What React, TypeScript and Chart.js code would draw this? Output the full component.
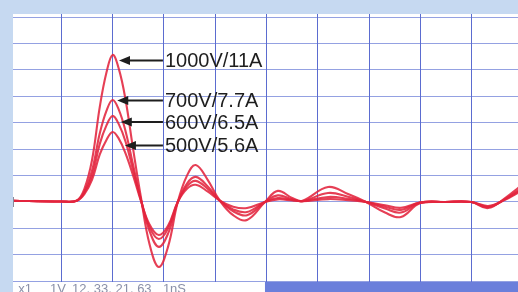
import React, { useEffect, useRef } from "react";
import { Chart, registerables } from "chart.js";
Chart.register(...registerables);

// time in screen divisions
const TIME = [0.0, 1.0, 1.3, 1.45, 1.6, 1.75, 1.88, 2.0, 2.12, 2.25, 2.4, 2.55, 2.72, 2.9, 3.08, 3.27, 3.45, 3.62, 3.85, 4.09, 4.35, 4.62, 4.97, 5.22, 5.5, 5.7, 6.2, 6.59, 6.94, 7.31, 7.62, 7.99, 8.48, 8.99, 9.32, 9.65, 9.95];

const V1000 = [0.05, 0.02, 0.05, 0.5, 1.6, 3.6, 4.9, 5.57, 5.05, 3.9, 2.0, 0.2, -1.6, -2.46, -1.7, 0.0, 1.0, 1.4, 0.85, 0.05, -0.5, -0.68, 0.0, 0.42, 0.15, 0.05, 0.57, 0.3, 0.0, -0.4, -0.57, -0.05, 0.0, 0.0, -0.23, 0.15, 0.6];
const V700 = [0.05, 0.02, 0.05, 0.4, 1.2, 2.6, 3.45, 3.86, 3.5, 2.7, 1.4, 0.1, -1.1, -1.7, -1.2, 0.0, 0.7, 0.95, 0.6, 0.05, -0.35, -0.5, 0.0, 0.25, 0.1, 0.03, 0.34, 0.2, 0.0, -0.25, -0.4, -0.03, 0.0, 0.0, -0.2, 0.12, 0.5];
const V600 = [0.05, 0.02, 0.05, 0.35, 1.0, 2.2, 2.9, 3.26, 2.95, 2.3, 1.2, 0.1, -0.95, -1.4, -1.0, 0.0, 0.6, 0.8, 0.5, 0.05, -0.28, -0.38, 0.0, 0.15, 0.08, 0.03, 0.19, 0.12, 0.0, -0.18, -0.3, -0.02, 0.0, 0.0, -0.18, 0.1, 0.45];
const V500 = [0.05, 0.02, 0.05, 0.3, 0.85, 1.8, 2.35, 2.65, 2.4, 1.85, 1.0, 0.05, -0.85, -1.25, -0.9, 0.0, 0.5, 0.65, 0.4, 0.05, -0.18, -0.23, 0.0, 0.1, 0.06, 0.03, 0.11, 0.07, 0.0, -0.12, -0.22, -0.02, 0.0, 0.0, -0.15, 0.08, 0.4];

const SERIES = [V1000, V700, V600, V500];
const SERIES_LABELS = ["1000V/11A", "700V/7.7A", "600V/6.5A", "500V/5.6A"];
const ARROW_TIP_X = [2.125, 2.09, 2.16, 2.24];
const ARROW_Y = [5.36, 3.84, 3.03, 2.14];
const LABEL_X = 3.02;

const X_GRID = [1, 2, 3, 4, 5, 6, 7, 8, 9];
const Y_GRID = [-3, -2, -1, 0, 1, 2, 3, 4, 5, 6, 7];

const FOOTER_TEXT = ["x1", "1V", "12. 33. 21. 63", "1nS"];
const FOOTER_X = [0.16, 0.78, 1.21, 2.98];
const FOOTER_BAR_START = 4.97;

const decorPlugin = {
  id: "decor",
  beforeDraw(chart: any) {
    const { ctx, chartArea, width, height } = chart;
    ctx.save();
    ctx.fillStyle = "#c6d9f1";
    ctx.fillRect(0, 0, width, height);
    ctx.fillStyle = "#ffffff";
    ctx.fillRect(chartArea.left, chartArea.top, width - chartArea.left, height - chartArea.top);
    ctx.restore();
  },
  afterDatasetsDraw(chart: any) {
    const { ctx, chartArea, width, height, scales } = chart;
    const xs = scales.x;
    const ys = scales.y;
    ctx.save();
    // small ground marker at left edge
    const gy = ys.getPixelForValue(0);
    ctx.strokeStyle = "#8a8a9a";
    ctx.lineWidth = 1;
    ctx.beginPath();
    ctx.moveTo(chartArea.left + 0.5, gy - 5);
    ctx.lineTo(chartArea.left + 0.5, gy + 5);
    ctx.stroke();
    // arrows and labels
    ctx.strokeStyle = "#1e1e1e";
    ctx.fillStyle = "#1e1e1e";
    ctx.lineWidth = 2;
    ctx.font = '20px "Liberation Sans", Arial, sans-serif';
    ctx.textBaseline = "middle";
    ctx.textAlign = "left";
    SERIES_LABELS.forEach((lab, i) => {
      const tx = xs.getPixelForValue(ARROW_TIP_X[i]);
      const py = ys.getPixelForValue(ARROW_Y[i]);
      const lx = xs.getPixelForValue(LABEL_X);
      ctx.beginPath();
      ctx.moveTo(tx + 8, py);
      ctx.lineTo(lx - 2, py);
      ctx.stroke();
      ctx.beginPath();
      ctx.moveTo(tx, py);
      ctx.lineTo(tx + 11, py - 4.5);
      ctx.lineTo(tx + 11, py + 4.5);
      ctx.closePath();
      ctx.fill();
      ctx.fillText(lab, lx, py + 1);
    });
    // footer
    const bx = xs.getPixelForValue(FOOTER_BAR_START);
    ctx.fillStyle = "#6b7fdb";
    ctx.fillRect(bx, chartArea.bottom, width - bx, height - chartArea.bottom);
    ctx.fillStyle = "#8a90a8";
    ctx.font = '13px "Liberation Sans", Arial, sans-serif';
    ctx.textBaseline = "top";
    FOOTER_TEXT.forEach((t, i) => {
      ctx.fillText(t, xs.getPixelForValue(FOOTER_X[i]), chartArea.bottom + 1);
    });
    ctx.restore();
  },
};

export default function App() {
  const ref = useRef<HTMLCanvasElement | null>(null);
  useEffect(() => {
    if (!ref.current) return;
    const chart = new Chart(ref.current, {
      type: "line",
      data: {
        datasets: SERIES.map((s, i) => ({
          label: SERIES_LABELS[i],
          data: TIME.map((t, j) => ({ x: t, y: s[j] })),
          borderColor: "rgba(226,36,62,0.88)",
          borderWidth: 2.1,
          pointRadius: 0,
          tension: 0.4,
          fill: false,
        })),
      },
      options: {
        responsive: false,
        devicePixelRatio: 1,
        animation: false,
        layout: { padding: { left: 13, top: 14, right: 0, bottom: 10 } },
        plugins: { legend: { display: false }, tooltip: { enabled: false } },
        scales: {
          x: {
            type: "linear",
            min: 0.0585,
            max: 9.902,
            afterBuildTicks: (axis: any) => {
              axis.ticks = X_GRID.map((v) => ({ value: v }));
            },
            ticks: { display: false },
            grid: { color: "rgba(62,82,200,0.85)", lineWidth: 1, drawTicks: false },
            border: { display: false },
          },
          y: {
            type: "linear",
            min: -3.03,
            max: 7.12,
            afterBuildTicks: (axis: any) => {
              axis.ticks = Y_GRID.map((v) => ({ value: v }));
            },
            ticks: { display: false },
            grid: { color: "rgba(90,110,210,0.65)", lineWidth: 1, drawTicks: false },
            border: { display: false },
          },
        },
      },
      plugins: [decorPlugin],
    });
    return () => chart.destroy();
  }, []);
  return (
    <div style={{ position: "fixed", left: 0, top: 0, width: 518, height: 292 }}>
      <canvas ref={ref} width={518} height={292} style={{ display: "block" }} />
    </div>
  );
}
